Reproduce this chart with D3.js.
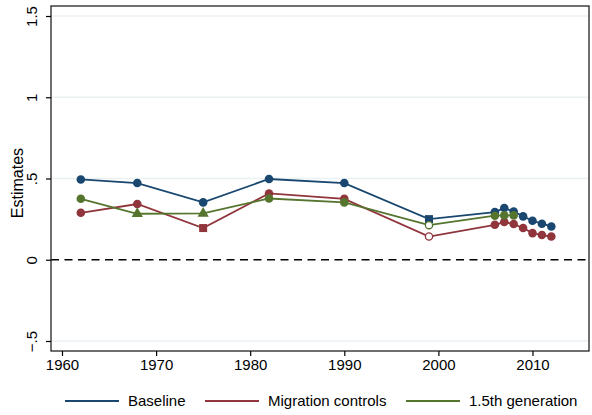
<!DOCTYPE html>
<html><head><meta charset="utf-8">
<script src="https://cdn.jsdelivr.net/npm/d3@7"></script>
<style>body{margin:0;background:#fff}svg{display:block;font-family:"Liberation Sans",Arial,sans-serif}</style>
</head><body><svg id="c" width="592" height="415"></svg>
<script>
const baselineYears = [1962,1968,1975,1982,1990,1999,2006,2007,2008,2009,2010,2011,2012];
const baselineValues = [0.494,0.472,0.353,0.497,0.472,0.250,0.293,0.318,0.297,0.267,0.240,0.222,0.205];
const baselineShapes = ["c","c","c","c","c","s","c","c","c","c","c","c","c"];
const migrationYears = [1962,1968,1975,1982,1990,1999,2006,2007,2008,2009,2010,2011,2012];
const migrationValues = [0.289,0.343,0.195,0.408,0.375,0.143,0.215,0.232,0.220,0.195,0.164,0.152,0.143];
const migrationShapes = ["c","c","s","c","c","o","c","c","c","c","c","c","c"];
const genYears = [1962,1968,1975,1982,1990,1999,2006,2007,2008];
const genValues = [0.375,0.283,0.285,0.377,0.353,0.213,0.271,0.273,0.273];
const genShapes = ["c","t","t","c","c","o","c","c","c"];
const xTicks = [1960,1970,1980,1990,2000,2010];
const yTicks = [-0.5,0,0.5,1,1.5];
const yTickLabels = ["\u2212.5","0",".5","1","1.5"];
const seriesNames = ["Baseline","Migration controls","1.5th generation"];
const seriesColors = ["#1a476f","#90353b","#55752f"];

const svg = d3.select("#c");
const L=51,R=589,T=6,B=351;
const x = d3.scaleLinear().domain([1960,2010]).range([62,532.5]);
const y = d3.scaleLinear().domain([-0.5,1.5]).range([341,16]);

// gridlines
svg.append("g").selectAll("line").data(yTicks.filter(v=>v!==0)).join("line")
  .attr("x1",L).attr("x2",R).attr("y1",d=>y(d)).attr("y2",d=>y(d))
  .attr("stroke","#eaf2f3").attr("stroke-width",1.5);
// zero line
svg.append("line").attr("x1",L).attr("x2",R).attr("y1",y(0)).attr("y2",y(0))
  .attr("stroke","#000").attr("stroke-width",1.3).attr("stroke-dasharray","8,5.5");

// frame
svg.append("rect").attr("x",L).attr("y",T).attr("width",R-L).attr("height",B-T)
  .attr("fill","none").attr("stroke","#222").attr("stroke-width",1.3);

// axes
const xAxis = svg.append("g").attr("transform",`translate(0,${B})`)
  .call(d3.axisBottom(x).tickValues(xTicks).tickFormat(d3.format("d")).tickSize(5).tickSizeOuter(0));
xAxis.select(".domain").remove();
xAxis.selectAll("text").attr("font-size",15).attr("fill","#000").attr("dy","0.71em").attr("y",8);
xAxis.selectAll("line").attr("stroke","#000").attr("stroke-width",1.2);

const yAxis = svg.append("g").attr("transform",`translate(${L},0)`)
  .call(d3.axisLeft(y).tickValues(yTicks).tickFormat((d,i)=>yTickLabels[i]).tickSize(5).tickSizeOuter(0));
yAxis.select(".domain").remove();
yAxis.selectAll("line").attr("stroke","#000").attr("stroke-width",1.2);
yAxis.selectAll("text").attr("font-size",15).attr("fill","#000")
  .attr("x",null).attr("dy",null).attr("text-anchor","middle")
  .attr("transform","translate(-13,0) rotate(-90)").attr("dy","-0.05em");

svg.append("text").attr("transform","translate(23,183) rotate(-90)")
  .attr("text-anchor","middle").attr("font-size",16).text("Estimates");

// series
const series = [
  {years:baselineYears, vals:baselineValues, shapes:baselineShapes, color:seriesColors[0]},
  {years:migrationYears, vals:migrationValues, shapes:migrationShapes, color:seriesColors[1]},
  {years:genYears, vals:genValues, shapes:genShapes, color:seriesColors[2]}
];
const line = d3.line().x(d=>x(d[0])).y(d=>y(d[1]));
series.forEach(s=>{
  const pts = s.years.map((yr,i)=>[yr,s.vals[i],s.shapes[i]]);
  svg.append("path").datum(pts).attr("d",line).attr("fill","none")
    .attr("stroke",s.color).attr("stroke-width",1.8);
  const g = svg.append("g");
  pts.forEach(p=>{
    const cx=x(p[0]), cy=y(p[1]);
    if(p[2]==="c") g.append("circle").attr("cx",cx).attr("cy",cy).attr("r",4.3).attr("fill",s.color);
    else if(p[2]==="o") g.append("circle").attr("cx",cx).attr("cy",cy).attr("r",3.6).attr("fill","#fff").attr("stroke",s.color).attr("stroke-width",1.3);
    else if(p[2]==="s") g.append("rect").attr("x",cx-4).attr("y",cy-4).attr("width",8).attr("height",8).attr("fill",s.color);
    else if(p[2]==="t") g.append("path").attr("transform",`translate(${cx},${cy})`)
      .attr("d",d3.symbol(d3.symbolTriangle,55)()).attr("fill",s.color);
  });
});

// legend
const legX = [65,205,406];
const lg = svg.append("g");
seriesNames.forEach((n,i)=>{
  lg.append("line").attr("x1",legX[i]).attr("x2",legX[i]+54).attr("y1",401).attr("y2",401)
    .attr("stroke",seriesColors[i]).attr("stroke-width",1.8);
  lg.append("text").attr("x",legX[i]+63).attr("y",401).attr("dy","0.35em")
    .attr("font-size",15).text(n);
});
</script></body></html>
